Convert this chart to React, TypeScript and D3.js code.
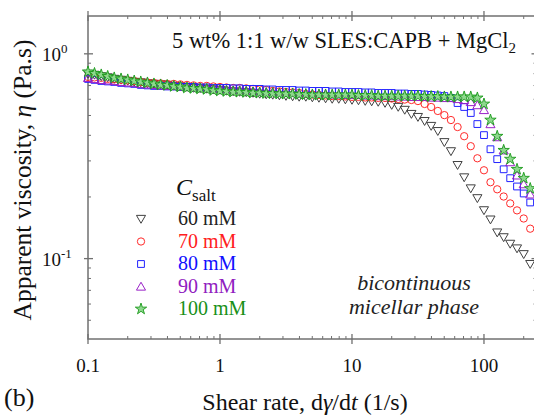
import React from "react";
import * as d3 from "d3";

const shearRate = [
  0.1, 0.112, 0.126, 0.141, 0.158, 0.178, 0.2, 0.224, 0.251, 0.282,
  0.316, 0.355, 0.398, 0.447, 0.501, 0.562, 0.631, 0.708, 0.794, 0.891,
  1, 1.12, 1.26, 1.41, 1.58, 1.78, 2.0, 2.24, 2.51, 2.82,
  3.16, 3.55, 3.98, 4.47, 5.01, 5.62, 6.31, 7.08, 7.94, 8.91,
  10, 11.2, 12.6, 14.1, 15.8, 17.8, 20.0, 22.4, 25.1, 28.2,
  31.6, 35.5, 39.8, 44.7, 50.1, 56.2, 63.1, 70.8, 79.4, 89.1,
  100, 112, 126, 141, 158, 178, 200, 224,
];

const eta60 = [
  0.798, 0.789, 0.776, 0.767, 0.754, 0.746, 0.737, 0.729, 0.725, 0.717,
  0.713, 0.709, 0.705, 0.697, 0.693, 0.689, 0.681, 0.678, 0.674, 0.670,
  0.666, 0.659, 0.655, 0.651, 0.648, 0.644, 0.637, 0.633, 0.630, 0.626,
  0.622, 0.619, 0.616, 0.616, 0.612, 0.609, 0.605, 0.602, 0.602, 0.598,
  0.595, 0.592, 0.588, 0.585, 0.582, 0.575, 0.562, 0.550, 0.532, 0.508,
  0.491, 0.469, 0.444, 0.419, 0.370, 0.334, 0.286, 0.249, 0.220, 0.197,
  0.172, 0.155, 0.134, 0.127, 0.118, 0.112, 0.105, 0.094,
];
const eta70 = [
  0.771, 0.767, 0.763, 0.754, 0.750, 0.746, 0.742, 0.737, 0.729, 0.725,
  0.721, 0.717, 0.713, 0.713, 0.709, 0.705, 0.701, 0.697, 0.697, 0.693,
  0.689, 0.685, 0.681, 0.681, 0.678, 0.674, 0.670, 0.666, 0.659, 0.655,
  0.651, 0.648, 0.644, 0.637, 0.633, 0.630, 0.626, 0.622, 0.622, 0.619,
  0.616, 0.616, 0.612, 0.612, 0.609, 0.609, 0.605, 0.602, 0.598, 0.595,
  0.588, 0.569, 0.550, 0.526, 0.502, 0.475, 0.439, 0.396, 0.354, 0.309,
  0.270, 0.236, 0.218, 0.201, 0.186, 0.172, 0.157, 0.140,
];
const eta80 = [
  0.754, 0.746, 0.737, 0.733, 0.729, 0.721, 0.717, 0.713, 0.705, 0.701,
  0.697, 0.697, 0.693, 0.693, 0.689, 0.689, 0.689, 0.685, 0.685, 0.681,
  0.681, 0.681, 0.678, 0.678, 0.674, 0.674, 0.674, 0.670, 0.670, 0.666,
  0.666, 0.666, 0.662, 0.662, 0.659, 0.659, 0.659, 0.655, 0.655, 0.651,
  0.651, 0.651, 0.648, 0.648, 0.644, 0.644, 0.644, 0.640, 0.640, 0.637,
  0.637, 0.633, 0.630, 0.626, 0.622, 0.609, 0.575, 0.550, 0.514, 0.454,
  0.401, 0.342, 0.306, 0.273, 0.247, 0.225, 0.208, 0.188,
];
const eta90 = [
  0.763, 0.754, 0.746, 0.742, 0.737, 0.729, 0.725, 0.721, 0.713, 0.709,
  0.705, 0.701, 0.697, 0.697, 0.693, 0.689, 0.685, 0.681, 0.681, 0.678,
  0.674, 0.670, 0.666, 0.666, 0.662, 0.659, 0.655, 0.651, 0.651, 0.648,
  0.644, 0.644, 0.640, 0.640, 0.637, 0.637, 0.637, 0.633, 0.633, 0.630,
  0.630, 0.630, 0.626, 0.626, 0.622, 0.622, 0.622, 0.619, 0.619, 0.616,
  0.616, 0.616, 0.612, 0.612, 0.609, 0.609, 0.602, 0.595, 0.582, 0.562,
  0.532, 0.454, 0.392, 0.338, 0.296, 0.255, 0.231, 0.206,
];
const eta100 = [
  0.816, 0.802, 0.789, 0.776, 0.763, 0.754, 0.746, 0.737, 0.729, 0.721,
  0.713, 0.705, 0.701, 0.693, 0.689, 0.681, 0.678, 0.674, 0.670, 0.662,
  0.659, 0.655, 0.651, 0.651, 0.648, 0.644, 0.644, 0.640, 0.640, 0.637,
  0.637, 0.637, 0.633, 0.633, 0.630, 0.630, 0.630, 0.630, 0.630, 0.630,
  0.630, 0.626, 0.626, 0.626, 0.622, 0.622, 0.622, 0.622, 0.622, 0.622,
  0.622, 0.619, 0.619, 0.619, 0.616, 0.616, 0.616, 0.616, 0.616, 0.609,
  0.569, 0.475, 0.396, 0.338, 0.306, 0.273, 0.247, 0.220,
];

const seriesLabels = ["60 mM", "70 mM", "80 mM", "90 mM", "100 mM"];
const seriesValues = [eta60, eta70, eta80, eta90, eta100];
const seriesColors = ["#404040", "#ff2a2a", "#2222ff", "#9a22c8", "#1a9a1a"];
const textColors = ["#222222", "#ff2020", "#1010ff", "#9020c0", "#189018"];
const xTicks = [0.1, 1, 10, 100];
const xTickLabels = ["0.1", "1", "10", "100"];
const yTicks = [1, 0.1];

const W = 534;
const H = 416;
const X0 = 88;
const X1 = 536.5;
const Y0 = 339;
const Y1 = 16;

const FONT = "'Liberation Serif', 'DejaVu Serif', serif";

export default function App() {
  const x = d3.scaleLog().domain([0.1, 250]).range([X0, X1]);
  const y = d3.scaleLog().domain([0.0405, 1.53]).range([Y0, Y1]);

  const symbolPath = (i: number) => {
    if (i === 0 || i === 3) return d3.symbol().type(d3.symbolTriangle).size(36)()!;
    if (i === 1) return d3.symbol().type(d3.symbolCircle).size(42)()!;
    if (i === 2) return d3.symbol().type(d3.symbolSquare).size(46)()!;
    return d3.symbol().type(d3.symbolStar).size(40)()!;
  };
  const marker = (i: number, cx: number, cy: number, key: string) => {
    const rot = i === 0 ? ` rotate(180)` : "";
    const dy = i === 0 ? -1 : i === 3 ? 1 : 0;
    return (
      <path
        key={key}
        d={symbolPath(i)}
        transform={`translate(${cx},${cy + dy})${rot}`}
        fill={i === 4 ? "#8fd88f" : "none"}
        stroke={seriesColors[i]}
        strokeWidth={i === 4 ? 0.9 : 1}
      />
    );
  };

  const xMinor: number[] = [];
  for (let dec = 0.1; dec < 300; dec *= 10) {
    for (let m = 2; m <= 9; m++) {
      const v = dec * m;
      if (v <= 250) xMinor.push(v);
    }
  }
  const yMinor: number[] = [];
  for (const dec of [0.01, 0.1, 1]) {
    for (let m = 2; m <= 9; m++) {
      const v = dec * m;
      if (v >= 0.0405 && v <= 1.53) yMinor.push(v);
    }
  }

  const axisColor = "#707070";

  return (
    <svg
      width={W}
      height={H}
      style={{ position: "absolute", left: 0, top: 0, background: "#fff" }}
      fontFamily={FONT}
    >
      <rect x={0} y={0} width={W} height={H} fill="#fff" />
      <rect
        x={X0}
        y={Y1}
        width={X1 - X0}
        height={Y0 - Y1}
        fill="none"
        stroke={axisColor}
        strokeWidth={1.5}
      />
      {xTicks.map((t) => (
        <g key={"xt" + t}>
          <line x1={x(t)} x2={x(t)} y1={Y0 - 5} y2={Y0 + 5} stroke={axisColor} strokeWidth={1.3} />
          <line x1={x(t)} x2={x(t)} y1={Y1 - 5} y2={Y1 + 5} stroke={axisColor} strokeWidth={1.3} />
        </g>
      ))}
      {xMinor.map((t) => (
        <g key={"xm" + t}>
          <line x1={x(t)} x2={x(t)} y1={Y0 - 3} y2={Y0} stroke={axisColor} strokeWidth={1} />
          <line x1={x(t)} x2={x(t)} y1={Y1} y2={Y1 + 3} stroke={axisColor} strokeWidth={1} />
        </g>
      ))}
      {yTicks.map((t) => (
        <g key={"yt" + t}>
          <line x1={X0 - 4} x2={X0 + 5} y1={y(t)} y2={y(t)} stroke={axisColor} strokeWidth={1.3} />
          <line x1={X1 - 5} x2={X1 + 4} y1={y(t)} y2={y(t)} stroke={axisColor} strokeWidth={1.3} />
        </g>
      ))}
      {yMinor.map((t) => (
        <g key={"ym" + t}>
          <line x1={X0} x2={X0 + 3} y1={y(t)} y2={y(t)} stroke={axisColor} strokeWidth={1} />
          <line x1={X1 - 3} x2={X1} y1={y(t)} y2={y(t)} stroke={axisColor} strokeWidth={1} />
        </g>
      ))}
      {xTicks.map((t, i) => (
        <text key={"xl" + t} x={x(t)} y={372} textAnchor="middle" fontSize={19} fill="#111">
          {xTickLabels[i]}
        </text>
      ))}
      <text x={42} y={y(1) + 7} fontSize={19} fill="#111">
        10<tspan dy={-8} fontSize={13}>0</tspan>
      </text>
      <text x={42} y={y(0.1) + 7} fontSize={19} fill="#111">
        10<tspan dy={-8} fontSize={13}>-1</tspan>
      </text>

      {seriesValues.map((vals, si) => (
        <g key={"s" + si}>
          {vals.map((v, k) => marker(si, x(shearRate[k]), y(v), `p${si}-${k}`))}
        </g>
      ))}

      <text x={172} y={48} fontSize={22.5} fill="#111">
        5 wt% 1:1 w/w SLES:CAPB + MgCl<tspan dy={5} fontSize={15}>2</tspan>
      </text>

      <text x={176} y={195} fontSize={24} fill="#111">
        <tspan fontStyle="italic">C</tspan>
        <tspan dy={6} fontSize={17}>salt</tspan>
      </text>
      {seriesLabels.map((lab, i) => (
        <g key={"lg" + i}>
          {marker(i, 141, 219 + i * 22.5, "lm" + i)}
          <text x={178} y={225 + i * 22.5} fontSize={20} fill={textColors[i]}>
            {lab}
          </text>
        </g>
      ))}

      <text x={414} y={290} fontSize={22} fontStyle="italic" textAnchor="middle" fill="#222">
        bicontinuous
      </text>
      <text x={414} y={314} fontSize={22} fontStyle="italic" textAnchor="middle" fill="#222">
        micellar phase
      </text>

      <text x={305} y={410} fontSize={24} textAnchor="middle" fill="#111">
        Shear rate, d<tspan fontStyle="italic">γ</tspan>/d<tspan fontStyle="italic">t</tspan> (1/s)
      </text>
      <text
        transform={`translate(31,180) rotate(-90)`}
        fontSize={25.5}
        textAnchor="middle"
        fill="#111"
      >
        Apparent viscosity, <tspan fontStyle="italic">η</tspan> (Pa.s)
      </text>
      <text x={4} y={406} fontSize={26} fill="#111">
        (b)
      </text>
    </svg>
  );
}
